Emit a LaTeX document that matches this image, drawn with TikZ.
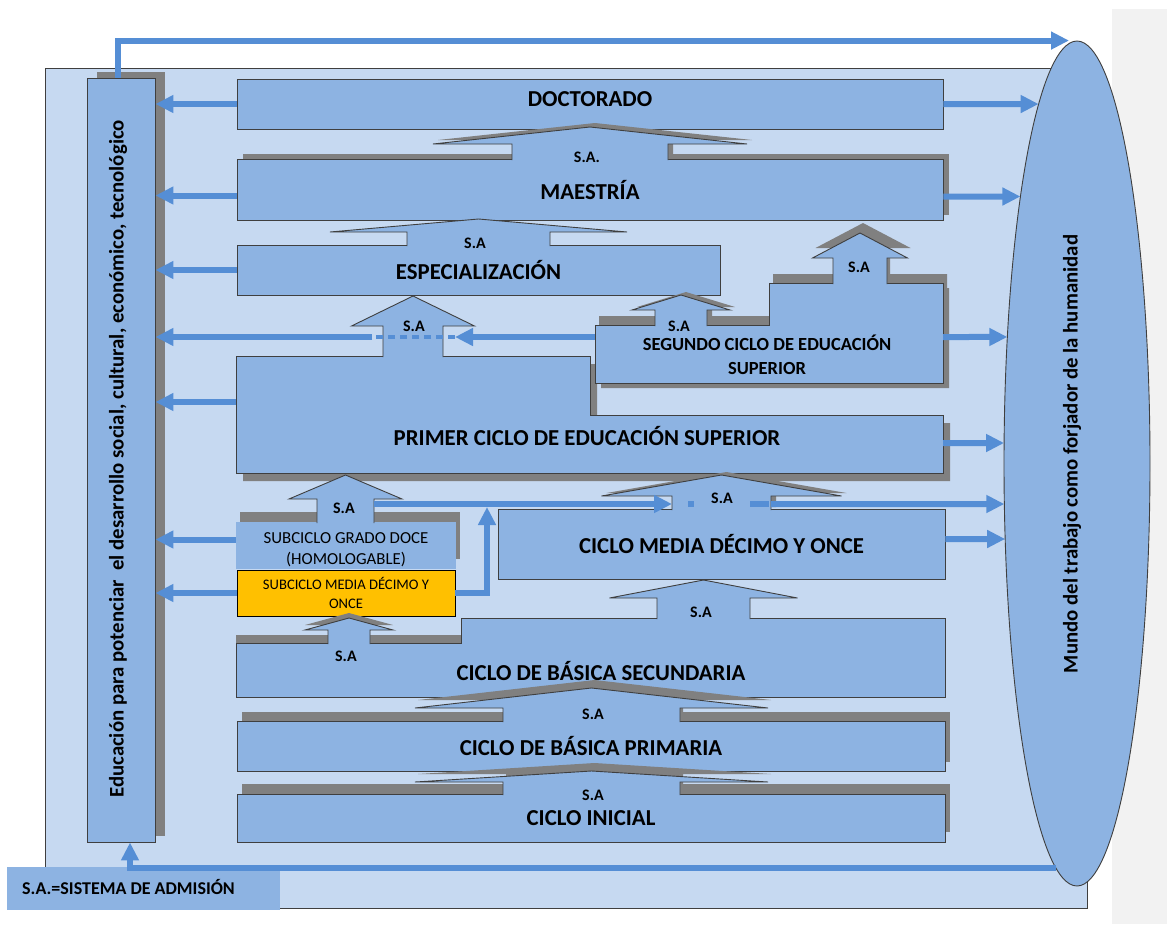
\documentclass[tikz,border=0pt]{standalone}
\usepackage{fontspec}
\setmainfont{Carlito}
\usetikzlibrary{arrows.meta,intersections,shadows,shapes.geometric}

\definecolor{paleblue}{HTML}{C6D9F1}
\definecolor{boxblue}{HTML}{8DB3E2}
\definecolor{linkblue}{HTML}{558ED5}
\definecolor{shadowgray}{HTML}{808080}
\definecolor{edgegray}{HTML}{3F3F3F}
\definecolor{gold}{HTML}{FFC000}
\definecolor{stripgray}{HTML}{F2F2F2}

% block arrow: [style]{cx}{stem half}{head half}{bottom}{base}{tip}
\newcommand\lift[7][]{%
  \draw[stage,#1] ({#2-#3},{#5+1}) -- ({#2-#3},#6) -- ({#2-#4},#6) -- (#2,#7)
    -- ({#2+#4},#6) -- ({#2+#3},#6) -- ({#2+#3},{#5+1});}
% arrow from a point to the border of the ellipse
\newcommand\toworld[1]{%
  \path[name path=ray] (#1) -- (#1 -| mundo.center);
  \draw[flow,name intersections={of=ray and world,by=hit}] (#1) -- (hit);}

\begin{document}
\begin{tikzpicture}[x=1pt,y=-1pt,
  stage/.style={draw=edgegray,line width=0.9pt,fill=boxblue},
  plate/.style={stage,inner sep=0pt,align=center},
  ghost/.style={fill=shadowgray,draw=none},
  flow/.style={draw=linkblue,line width=6pt,-{Triangle[length=18pt,width=17pt]}},
  bigtext/.style={font=\fontsize{22.8}{26}\selectfont\bfseries},
  midtext/.style={font=\fontsize{18.5}{24}\selectfont\bfseries,align=center},
  satag/.style={font=\fontsize{16}{18}\selectfont\bfseries,inner sep=0pt},
  lighttext/.style={font=\fontsize{16.8}{21}\selectfont,align=center},
  sidetext/.style={font=\fontsize{20.8}{24}\selectfont\bfseries,rotate=90,inner sep=0pt},
  cast/.style args={#1,#2}{drop shadow={shadow xshift=#1,shadow yshift=#2,fill=shadowgray,opacity=1}}]

\fill[white] (0,0) rectangle (1167,924);
\useasboundingbox (0,0) rectangle (1167,924);
\fill[stripgray] (1112,9) rectangle (1167,924);
\draw[edgegray,line width=0.9pt,fill=paleblue] (45,68) rectangle (1087,908);

\node[fill=boxblue,anchor=north west,minimum width=273pt,minimum height=43pt,inner sep=0pt] (legend) at (7,867) {};
\node[anchor=west,inner sep=0pt,font=\fontsize{18}{20}\selectfont\bfseries] (legendtxt) at (22,887) {S.A.=SISTEMA DE ADMISIÓN};

\node[stage,ellipse,minimum width=146pt,minimum height=845pt,inner sep=0pt] (mundo) at (1077,463.5) {};
\path[name path=world] (mundo.center) ellipse [x radius=73pt,y radius=422.5pt];
\node[sidetext] (mundotxt) at (1072,454) {Mundo del trabajo como forjador de la humanidad};

\node[plate,cast={10pt,6pt},minimum width=68pt,minimum height=764pt] (educ) at (121,460) {};
\node[sidetext] (eductxt) at (118,459) {Educación para potenciar \ el desarrollo social, cultural, económico, tecnológico};

% upper levels
\node[plate,bigtext,minimum width=706pt,minimum height=50pt,text depth=10pt] (doct) at (590,104) {DOCTORADO};
\node[plate,bigtext,cast={6pt,5pt},minimum width=706pt,minimum height=61pt] (maes) at (590,189.5) {MAESTRÍA};
\lift[ghost,xshift=5pt,yshift=4pt]{590}{78}{157}{159}{144}{127}
\lift{590}{78}{157}{159}{144}{127}
\node[satag] (sa1) at (587,157) {S.A.};

\node[plate,bigtext,minimum width=483pt,minimum height=50pt] (espec) at (478.5,270) {ESPECIALIZACIÓN};
\lift{478.5}{71.5}{148.5}{245}{232}{219}
\node[satag] (sa2) at (475,243) {S.A};

\draw[ghost,xshift=7pt,yshift=-8pt] (236,356) -- (590,356) -- (590,415) -- (943,415) -- (943,473) -- (236,473) -- cycle;
\draw[stage] (236,356) -- (590,356) -- (590,415) -- (943,415) -- (943,473) -- (236,473) -- cycle;
\node[bigtext] (primtxt) at (587,436) {PRIMER CICLO DE EDUCACIÓN SUPERIOR};
\lift{413}{30}{61.5}{356}{326}{296}
\node[satag] (sa5) at (414,326) {S.A};

\draw[ghost,xshift=4pt,yshift=9pt] (595,325) -- (769,325) -- (769,283) -- (943,283) -- (943,383) -- (595,383) -- cycle;
\draw[ghost,xshift=6pt,yshift=-5pt] (595,325) -- (769,325) -- (769,283) -- (943,283) -- (943,383) -- (595,383) -- cycle;
\draw[stage] (595,325) -- (769,325) -- (769,283) -- (943,283) -- (943,383) -- (595,383) -- cycle;
\node[midtext] (segtxt) at (767,355) {SEGUNDO CICLO DE EDUCACIÓN\\SUPERIOR};
\lift[ghost,xshift=3pt,yshift=10pt]{860}{27}{47.5}{283}{258}{233}
\lift{860}{27}{47.5}{283}{258}{233}
\node[satag] (sa3) at (859,267) {S.A};
\lift[ghost,xshift=5pt,yshift=3pt]{681}{26}{49}{325}{310}{295}
\lift{681}{26}{49}{325}{310}{295}
\node[satag] (sa4) at (679,326) {S.A};

\coordinate (segL) at (595,337);
\coordinate (dashR) at (455,337);
\coordinate (dashL) at (372,337);
\draw[flow] (segL) -- (dashR);
\draw[linkblue,line width=3.5pt,dash pattern=on 7pt off 5pt] (dashR) -- (dashL);
\draw[flow] (dashL) -- (dashL -| educ.east);

% media and subciclos
\node[fill=boxblue,cast={4pt,10pt},minimum width=220pt,minimum height=47pt,inner sep=0pt] (doce) at (346,545.5) {};
\node[lighttext] (docetxt) at (346,550) {SUBCICLO GRADO DOCE\\(HOMOLOGABLE)};
\lift{345.5}{28.5}{56.5}{522}{499}{475}
\node[satag] (sa6) at (344,508) {S.A};
\node[draw=black,line width=0.9pt,fill=gold,minimum width=218pt,minimum height=46pt,inner sep=0pt,
  font=\fontsize{14.6}{19}\selectfont,align=center] (once) at (346,593) {SUBCICLO MEDIA DÉCIMO Y\\ONCE};

\node[plate,bigtext,minimum width=447pt,minimum height=70pt] (media) at (721.5,544) {CICLO MEDIA DÉCIMO Y ONCE};
\lift[ghost,xshift=5pt,yshift=3pt]{721.5}{49.5}{120}{509}{496}{475}
\lift{721.5}{49.5}{120}{509}{496}{475}
\node[satag] (sa7) at (722,498) {S.A};

\coordinate (jointop) at (487,507);
\draw[flow] (once.east) -| (jointop);
\coordinate (doceR) at (374,504);
\coordinate (mediaSL) at (672,504);
\coordinate (mediaSR) at (771,504);
\draw[flow] (doceR) -- (mediaSL);
\draw[linkblue,line width=6pt,dash pattern=on 0pt off 16pt on 6pt off 56pt on 19pt off 40pt] (mediaSL) -- (mediaSR);
\toworld{mediaSR}

% basica
\fill[shadowgray] (236,635) rectangle (461,645);
\draw[stage] (236,643) -- (461,643) -- (461,618) -- (945,618) -- (945,697) -- (236,697) -- cycle;
\node[bigtext] (sectxt) at (601,671) {CICLO DE BÁSICA SECUNDARIA};
\lift{703.5}{46.5}{94}{618}{598}{580}
\node[satag] (sa8) at (701,612) {S.A};
\lift[ghost,yshift=5pt]{349}{21}{44}{643}{630}{618}
\lift{349}{21}{44}{643}{630}{618}
\node[satag] (sa9) at (346,656) {S.A};

\node[plate,bigtext,cast={5pt,9pt},minimum width=708pt,minimum height=50pt] (prima) at (591,746) {CICLO DE BÁSICA PRIMARIA};
\lift[ghost,xshift=3pt,yshift=8pt]{591.5}{88.5}{176.5}{721}{708}{688}
\lift{591.5}{88.5}{176.5}{721}{708}{688}
\node[satag] (sa10) at (593,714) {S.A};

\node[plate,bigtext,cast={5pt,10pt},minimum width=708pt,minimum height=48pt] (inic) at (591,818) {CICLO INICIAL};
\lift[ghost,xshift=3pt,yshift=8pt]{591.5}{88.5}{176.5}{794}{782}{771}
\lift{591.5}{88.5}{176.5}{794}{782}{771}
\node[satag] (sa11) at (593,795) {S.A};

% towards the left box
\coordinate (maesL) at ([yshift=-6pt]maes.west);
\coordinate (primL) at (236,402);
\coordinate (doceL) at ([yshift=6pt]doce.west);
\draw[flow] (doct.west) -- (doct.west -| educ.east);
\draw[flow] (maesL) -- (maesL -| educ.east);
\draw[flow] (espec.west) -- (espec.west -| educ.east);
\draw[flow] (primL) -- (primL -| educ.east);
\draw[flow] (doceL) -- (doceL -| educ.east);
\draw[flow] (once.west) -- (once.west -| educ.east);

% towards the world of work
\coordinate (maesR) at ([yshift=-7pt]maes.east);
\coordinate (segR) at (943,337);
\coordinate (primR) at (943,443);
\coordinate (mediaR) at ([yshift=5pt]media.east);
\toworld{doct.east}
\toworld{maesR}
\toworld{segR}
\toworld{primR}
\toworld{mediaR}

\draw[flow] ([xshift=-3pt]educ.north) |- ([xshift=-8pt]mundo.north);
\coordinate (footy) at (0,868);
\path[name path=ray] (mundo.center |- footy) -- (footy);
\draw[flow,name intersections={of=ray and world,by=foot}] (foot) -| ([xshift=9pt]educ.south);
\end{tikzpicture}
\end{document}
